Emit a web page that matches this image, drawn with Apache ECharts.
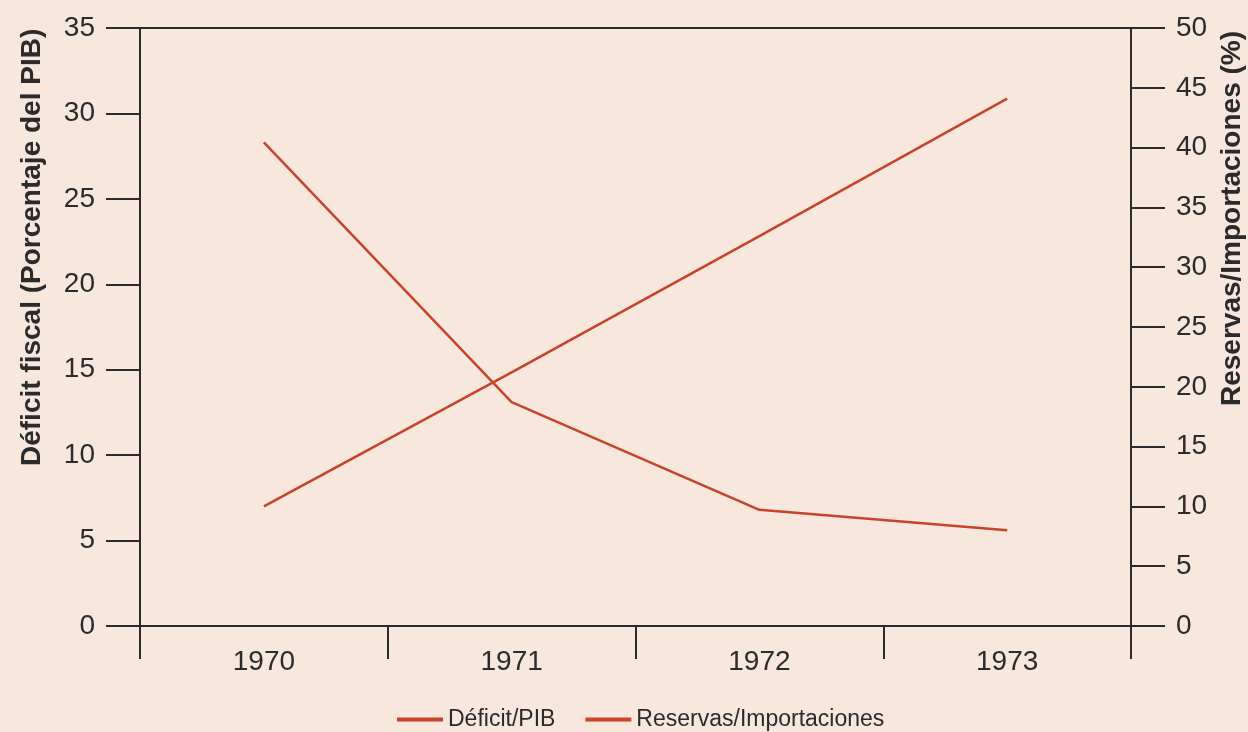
<!DOCTYPE html>
<html>
<head>
<meta charset="utf-8">
<script src="https://cdn.jsdelivr.net/npm/echarts@6/dist/echarts.min.js"></script>
<style>
  html, body { margin: 0; padding: 0; background: #f7e7dd; }
  #chart { width: 1248px; height: 732px; }
</style>
</head>
<body>
<div id="chart"></div>
<script>
// Years on the category axis
const years = ['1970', '1971', '1972', '1973'];
// Fiscal deficit, percent of GDP (left axis)
const deficitPib = [28.3, 13.1, 6.8, 5.6];
// Reserves over imports, percent (right axis)
const reservasImportaciones = [10.0, 21.2, 32.6, 44.1];
// Series names shown in the legend
const seriesNames = ['Déficit/PIB', 'Reservas/Importaciones'];
// Axis titles
const leftTitle = 'Déficit fiscal (Porcentaje del PIB)';
const rightTitle = 'Reservas/Importaciones (%)';

const FONT = '"Liberation Sans", Arial, Helvetica, sans-serif';
const INK = '#2b2b2b';
const RED = '#c8432b';

const chart = echarts.init(document.getElementById('chart'), null, { renderer: 'canvas' });

const valueAxis = (min, max, position) => ({
  type: 'value',
  position: position,
  min: min,
  max: max,
  interval: 5,
  axisLine: { show: true, lineStyle: { color: INK, width: 2 } },
  axisTick: { show: true, inside: false, length: 34, lineStyle: { color: INK, width: 2 } },
  axisLabel: { margin: 45, fontSize: 28, fontFamily: FONT, color: INK },
  splitLine: { show: false }
});

chart.setOption({
  backgroundColor: '#f7e7dd',
  animation: false,
  grid: {
    left: 140, right: 117, top: 28, bottom: 106,
    show: true, borderColor: INK, borderWidth: 2, backgroundColor: 'transparent'
  },
  legend: {
    data: seriesNames,
    left: 392,
    top: 703,
    icon: 'rect',
    itemWidth: 46,
    itemHeight: 4,
    itemGap: 30,
    textStyle: { fontSize: 23, fontFamily: FONT, color: INK }
  },
  xAxis: {
    type: 'category',
    data: years,
    boundaryGap: true,
    axisLine: { show: true, lineStyle: { color: INK, width: 2 } },
    axisTick: { show: true, alignWithLabel: false, length: 33, lineStyle: { color: INK, width: 2 } },
    axisLabel: { margin: 22, fontSize: 28, fontFamily: FONT, color: INK }
  },
  yAxis: [valueAxis(0, 35, 'left'), valueAxis(0, 50, 'right')],
  series: [
    {
      name: seriesNames[0], type: 'line', yAxisIndex: 0, data: deficitPib,
      symbol: 'none', color: RED, lineStyle: { color: RED, width: 2.5 }
    },
    {
      name: seriesNames[1], type: 'line', yAxisIndex: 1, data: reservasImportaciones,
      symbol: 'none', color: RED, lineStyle: { color: RED, width: 2.5 }
    }
  ],
  graphic: [
    {
      type: 'text', x: 32, y: 466, rotation: Math.PI / 2,
      style: { text: leftTitle, font: 'bold 28px ' + FONT, fill: INK, align: 'left', verticalAlign: 'middle' }
    },
    {
      type: 'text', x: 1232, y: 406, rotation: Math.PI / 2,
      style: { text: rightTitle, font: 'bold 28px ' + FONT, fill: INK, align: 'left', verticalAlign: 'middle' }
    }
  ]
});
</script>
</body>
</html>
